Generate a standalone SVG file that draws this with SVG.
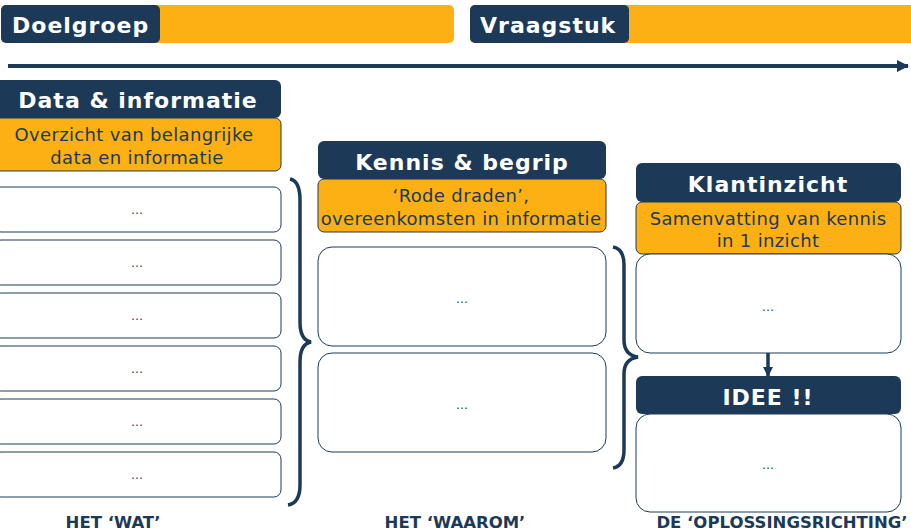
<svg xmlns="http://www.w3.org/2000/svg" width="911" height="531" viewBox="0 0 911 531">
<defs>
<marker id="ah" markerWidth="10" markerHeight="10" refX="9" refY="5" orient="auto" markerUnits="userSpaceOnUse">
<path d="M0,0 L10,5 L0,10 Z" fill="#1c3a57"/>
</marker>
<marker id="ah2" markerWidth="12" markerHeight="12" refX="11" refY="6" orient="auto" markerUnits="userSpaceOnUse">
<path d="M0,0 L12,6 L0,12 Z" fill="#1c3a57"/>
</marker>
<style>
.dark{fill:#1c3a57;}
.orange{fill:#fdb013;}
.ob{fill:#fdb013;stroke:#1c3a57;stroke-width:1;}
.wb{fill:#ffffff;stroke:#1c3a57;stroke-width:1;}
.title{font-family:"DejaVu Sans",Verdana,sans-serif;font-weight:bold;font-size:22px;letter-spacing:1px;fill:#ffffff;}
.sub{font-family:"DejaVu Sans",Verdana,sans-serif;font-size:18px;letter-spacing:0.35px;fill:#1c3a57;text-anchor:middle;}
.dots{font-family:"DejaVu Sans",Verdana,sans-serif;font-size:12px;fill:#1c3a57;text-anchor:middle;}
.lbl{font-family:"DejaVu Sans",Verdana,sans-serif;font-weight:bold;font-size:16.5px;fill:#1c3a57;text-anchor:middle;}
.brace{fill:none;stroke:#1c3a57;stroke-width:3.5;}
</style>
</defs>

<g id="top-doelgroep">
<rect x="1" y="5" width="453" height="38" rx="5" class="orange"/>
<rect x="1" y="5" width="159" height="38" rx="5" class="dark"/>
<text x="12" y="33" class="title">Doelgroep</text>
</g>
<g id="top-vraagstuk">
<rect x="470" y="5" width="450" height="38" rx="5" class="orange"/>
<rect x="470" y="5" width="159" height="38" rx="5" class="dark"/>
<text x="480" y="33" class="title">Vraagstuk</text>
</g>

<g id="col1">
<rect x="-6" y="80" width="287" height="38" rx="6" class="dark"/>
<text x="138" y="108" class="title" text-anchor="middle">Data &amp; informatie</text>
<rect x="-6" y="118" width="287" height="53" rx="6" class="ob"/>
<text x="134" y="141" class="sub">Overzicht van belangrijke</text>
<text x="137" y="164" class="sub">data en informatie</text>
<rect x="-6" y="187" width="287" height="45" rx="7" class="wb"/>
<text x="137" y="214" class="dots">…</text>
<rect x="-6" y="240" width="287" height="45" rx="7" class="wb"/>
<text x="137" y="267" class="dots">…</text>
<rect x="-6" y="293" width="287" height="45" rx="7" class="wb"/>
<text x="137" y="320" class="dots">…</text>
<rect x="-6" y="346" width="287" height="45" rx="7" class="wb"/>
<text x="137" y="373" class="dots">…</text>
<rect x="-6" y="399" width="287" height="45" rx="7" class="wb"/>
<text x="137" y="426" class="dots">…</text>
<rect x="-6" y="452" width="287" height="45" rx="7" class="wb"/>
<text x="137" y="479" class="dots">…</text>
</g>

<g id="col2">
<rect x="318" y="141" width="288" height="38" rx="6" class="dark"/>
<text x="462" y="170" class="title" text-anchor="middle">Kennis &amp; begrip</text>
<rect x="318" y="179" width="288" height="53" rx="6" class="ob"/>
<text x="461" y="202" class="sub">‘Rode draden’,</text>
<text x="461" y="225" class="sub">overeenkomsten in informatie</text>
<rect x="318" y="247" width="288" height="99" rx="14" class="wb"/>
<text x="462" y="303" class="dots">…</text>
<rect x="318" y="353" width="288" height="99" rx="14" class="wb"/>
<text x="462" y="409" class="dots">…</text>
</g>

<g id="col3">
<rect x="636" y="163" width="265" height="39" rx="6" class="dark"/>
<text x="768" y="192" class="title" text-anchor="middle">Klantinzicht</text>
<rect x="636" y="202" width="265" height="52" rx="6" class="ob"/>
<text x="768" y="225" class="sub">Samenvatting van kennis</text>
<text x="768" y="247" class="sub">in 1 inzicht</text>
<rect x="636" y="254" width="265" height="99" rx="14" class="wb"/>
<text x="768" y="311" class="dots">…</text>
</g>

<g id="idee">
<rect x="636" y="376" width="265" height="38" rx="6" class="dark"/>
<text x="768" y="405" class="title" text-anchor="middle">IDEE !!</text>
<rect x="636" y="414" width="265" height="98" rx="14" class="wb"/>
<text x="768" y="469" class="dots">…</text>
</g>

<g id="connectors">
<line x1="8" y1="66" x2="908" y2="66" stroke="#1c3a57" stroke-width="4" marker-end="url(#ah2)"/>
<line x1="768" y1="353" x2="768" y2="376" stroke="#1c3a57" stroke-width="3.5" marker-end="url(#ah)"/>
<path class="brace" d="M290,179 Q300,181 300,200 L300,322 Q300,340 311,342 Q300,344 300,362 L300,485 Q300,503 288,505"/>
<path class="brace" d="M613,247 Q624,249 624,265 L624,340 Q624,355 638,357 Q624,359 624,374 L624,450 Q624,466 613,468"/>
</g>

<g id="labels">
<text x="113" y="528" class="lbl">HET ‘WAT’</text>
<text x="455" y="528" class="lbl">HET ‘WAAROM’</text>
<text x="782" y="528" class="lbl">DE ‘OPLOSSINGSRICHTING’</text>
</g>
</svg>
